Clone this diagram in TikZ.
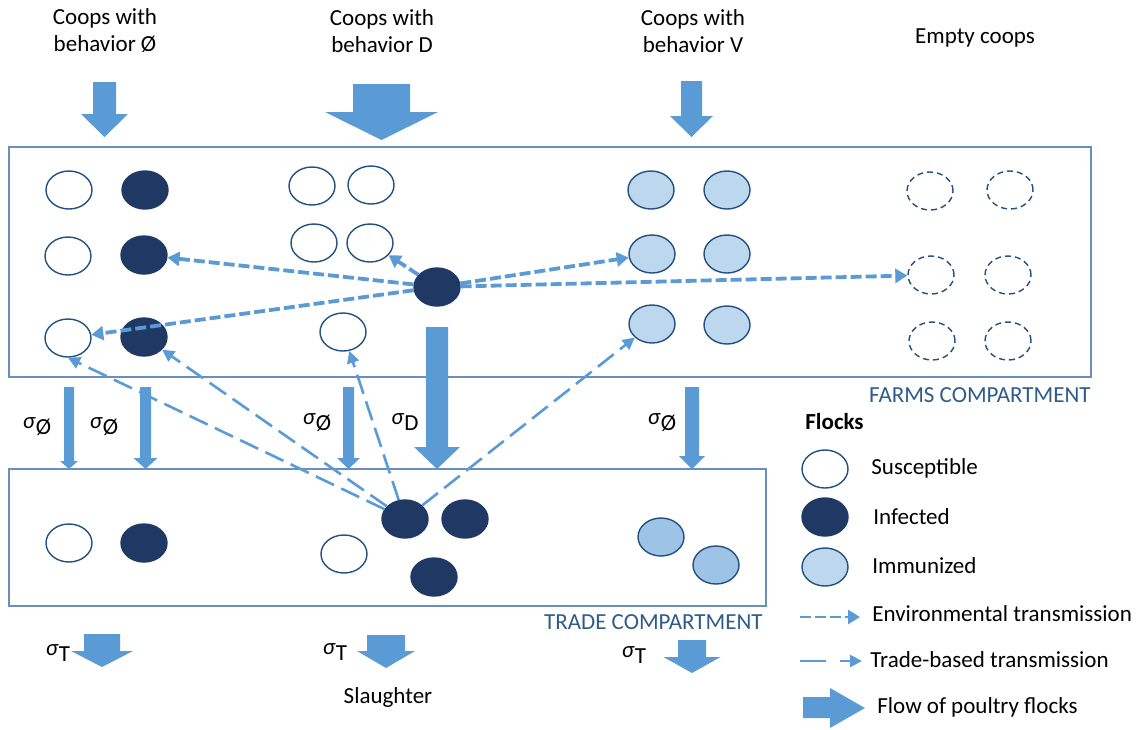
\documentclass[tikz,border=0pt]{standalone}
\usepackage{fontspec}
\setmainfont{Carlito}
\usetikzlibrary{shapes.geometric, arrows.meta}

\definecolor{flowblue}{HTML}{5B9BD5}
\definecolor{navy}{HTML}{203864}
\definecolor{rimblue}{HTML}{23517F}
\definecolor{immfill}{HTML}{BDD7EE}
\definecolor{tradeimm}{HTML}{9DC3E6}
\definecolor{boxblue}{HTML}{6C8EBF}
\definecolor{compblue}{HTML}{2E5C8A}

\tikzset{
  flock/.style={ellipse, minimum width=23pt, minimum height=19pt, inner sep=0pt, line width=0.7pt},
  sus/.style={flock, draw=rimblue, fill=white},
  inf/.style={flock, draw=navy, fill=navy},
  imm/.style={flock, draw=rimblue, fill=immfill},
  immtr/.style={flock, draw=rimblue, fill=tradeimm},
  emp/.style={flock, draw=rimblue, dash pattern=on 3pt off 2pt},
  envarrow/.style={draw=flowblue, line width=1.9pt, dash pattern=on 5.5pt off 2pt, -{Triangle[length=6pt,width=7pt]}},
  tradearrow/.style={draw=flowblue, line width=1.3pt, dash pattern=on 10pt off 4pt, -{Triangle[length=6pt,width=6pt]}},
  compart/.style={draw=boxblue, line width=0.8pt},
  comptext/.style={text=compblue, anchor=east, inner sep=0pt},
  legtext/.style={anchor=west, inner sep=0pt}
}

% block arrow: x, top, head start, tip, shaft half width, head half width
\newcommand{\flowdown}[6]{
  \fill[flowblue] ({#1-#5},#2) -- ({#1+#5},#2) -- ({#1+#5},#3) -- ({#1+#6},#3)
    -- (#1,#4) -- ({#1-#6},#3) -- ({#1-#5},#3) -- cycle;
}
\newcommand{\sigsub}[1]{\textit{σ}\raisebox{-3pt}{#1}}

\begin{document}
\begin{tikzpicture}[x=0.5pt, y=-0.5pt, font=\fontsize{11.5}{13.5}\selectfont]
\useasboundingbox (0,0) rectangle (1140,729);

% coop types
\node[align=center] (lblO) at (105,31) {Coops with\\behavior Ø};
\node[align=center] (lblD) at (382,31) {Coops with\\behavior D};
\node[align=center] (lblV) at (693,31) {Coops with\\behavior V};
\node (lblE) at (975,38) {Empty coops};

\flowdown{104.5}{82}{114}{137}{11.5}{23.5}
\flowdown{381.5}{84}{112}{140}{28.5}{56.5}
\flowdown{691.5}{81}{116}{137}{10.5}{21.5}

% compartments
\draw[compart] (9,147) rectangle (1091,377);
\node[comptext] at (1091,395) {FARMS COMPARTMENT};
\draw[compart] (9,469) rectangle (766,606);
\node[comptext] at (763,622) {TRADE COMPARTMENT};

% farms
\node[sus] (sf1) at (69,190) {};
\node[sus] (sf2) at (68,256) {};
\node[sus] (sf3) at (68,338) {};
\node[inf] (if1) at (145,190) {};
\node[inf] (if2) at (144,255) {};
\node[inf] (if3) at (144,337) {};

\node[sus] (sd1) at (312,186) {};
\node[sus] (sd2) at (371,185) {};
\node[sus] (sd3) at (314,243) {};
\node[sus] (sd4) at (370,243) {};
\node[sus] (sd5) at (343,332) {};
\node[inf] (id) at (437,287) {};

\node[imm] (v1) at (651,190) {};
\node[imm] (v2) at (727,190) {};
\node[imm] (v3) at (652,254) {};
\node[imm] (v4) at (727,254) {};
\node[imm] (v5) at (652,324) {};
\node[imm] (v6) at (727,325) {};

\node[emp] (e1) at (930,191) {};
\node[emp] (e2) at (1010,190) {};
\node[emp] (e3) at (931,275) {};
\node[emp] (e4) at (1008,275) {};
\node[emp] (e5) at (932,341) {};
\node[emp] (e6) at (1008,341) {};

% trade
\node[sus] (ts1) at (69,543) {};
\node[inf] (ti1) at (144,543) {};
\node[sus] (ts2) at (344,554) {};
\node[inf] (ti2) at (405,519) {};
\node[inf] (ti3) at (465,519) {};
\node[inf] (ti4) at (434,577) {};
\node[immtr] (tv1) at (661,537) {};
\node[immtr] (tv2) at (716,565) {};

% flows farms -> trade -> slaughter
\flowdown{69}{387}{461}{469}{5}{9}
\flowdown{145.5}{387}{458}{469}{5.5}{12}
\flowdown{348.5}{387}{458}{469}{5.5}{11.5}
\flowdown{437}{327}{447}{469}{11}{23}
\flowdown{692}{387}{456}{469}{7}{13}
\node (sg1) at (37,427) {\sigsub{Ø}};
\node (sg2) at (104,427) {\sigsub{Ø}};
\node (sg3) at (317,423) {\sigsub{Ø}};
\node (sgD) at (405,422) {\sigsub{D}};
\node (sg4) at (662,423) {\sigsub{Ø}};

\flowdown{102}{634}{651}{667}{18}{31}
\flowdown{386}{635}{651}{668}{19}{29}
\flowdown{692}{640}{657}{673}{14}{28.5}
\node (st1) at (58,653) {\sigsub{T}};
\node (st2) at (335,652) {\sigsub{T}};
\node (st3) at (634,655) {\sigsub{T}};
\node (slaughter) at (388,697) {Slaughter};

% transmission
\draw[envarrow] (id) -- (if2);
\draw[envarrow] (id) -- (sf3);
\draw[envarrow] (id) -- (sd4);
\draw[envarrow] (id) -- (v3);
\draw[envarrow] (id) -- (e3);

\draw[tradearrow] (ti2) -- (sf3.south);
\draw[tradearrow] (ti2) -- (if3);
\draw[tradearrow] (ti2) -- (sd5);
\draw[tradearrow] (ti2) -- (v5);

% legend
\node[legtext, font=\fontsize{11.5}{13.5}\selectfont\bfseries] (flocks) at (805,422) {Flocks};
\node[sus] (lgs) at (825,469) {};
\node[legtext] at (871,468) {Susceptible};
\node[inf] (lgi) at (825,517) {};
\node[legtext] at (873,517) {Infected};
\node[imm] (lgv) at (825,567) {};
\node[legtext] at (872,566) {Immunized};

\coordinate (env0) at (800,617);
\coordinate (env1) at (860,617);
\draw[envarrow, line width=1.4pt] (env0) -- (env1);
\node[legtext] at (872,614) {Environmental transmission};
\coordinate (tr0) at (800,661);
\coordinate (tr1) at (862,661);
\draw[tradearrow, dash pattern=on 13pt off 7pt] (tr0) -- (tr1);
\node[legtext] at (870,660) {Trade-based transmission};
\fill[flowblue] (803,697) -- (830,697) -- (830,688) -- (865,708) -- (830,728) -- (830,718) -- (803,718) -- cycle;
\node[legtext] at (877,707) {Flow of poultry flocks};

\end{tikzpicture}
\end{document}
